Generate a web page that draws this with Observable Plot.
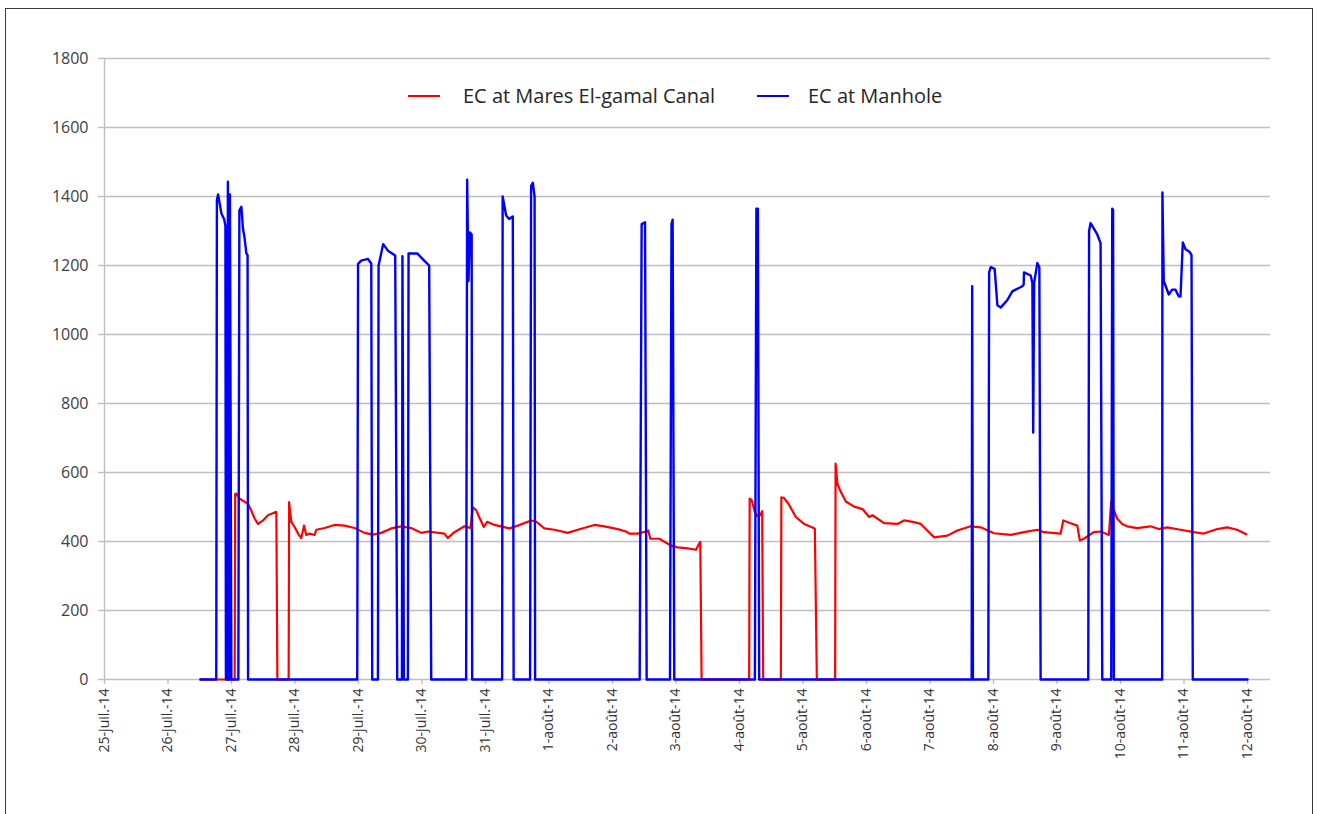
<!DOCTYPE html>
<html>
<head>
<meta charset="utf-8">
<script src="https://cdn.jsdelivr.net/npm/d3@7"></script>
<script src="https://cdn.jsdelivr.net/npm/@observablehq/plot@0.6"></script>
<style>
  html, body { margin: 0; padding: 0; background: #fff; }
  #frame { position: absolute; left: 5px; top: 8px; width: 1308px; height: 830px; border: 1.6px solid #3a3a3a; box-sizing: border-box; }
  #chart { position: absolute; left: 0; top: 0; }
  .legline { position: absolute; height: 2px; width: 32px; }
  .legtext { position: absolute; top: 82px; line-height: 28px; font-family: "Open Sans", sans-serif; font-size: 20px; color: #262626; white-space: nowrap; }
</style>
</head>
<body>
<div id="frame"></div>
<div id="chart"></div>
<div class="legline" style="left:408px; top:95px; background:#ff0000;"></div>
<div class="legtext" id="lt1" style="left:463px;"></div>
<div class="legline" style="left:757px; top:95px; background:#0000ff;"></div>
<div class="legtext" id="lt2" style="left:808px;"></div>
<script>
// Series names
const seriesNames = ["EC at Mares El-gamal Canal", "EC at Manhole"];

// Time axis: days after 25 July 2014 00:00
const xTickLabels = ["25-juil.-14","26-juil.-14","27-juil.-14","28-juil.-14","29-juil.-14","30-juil.-14","31-juil.-14",
  "1-août-14","2-août-14","3-août-14","4-août-14","5-août-14","6-août-14","7-août-14","8-août-14","9-août-14",
  "10-août-14","11-août-14","12-août-14"];
const yTicks = [0,200,400,600,800,1000,1200,1400,1600,1800];

// EC at Manhole (blue)
const manholeDay = [1.510,1.760,1.770,1.789,1.841,1.883,1.904,1.912,1.935,1.943,1.959,1.967,1.975,1.998,
  2.108,2.124,2.155,2.182,2.203,2.234,2.253,2.261,
  3.980,3.993,4.043,4.149,4.201,4.216,4.306,4.316,4.389,4.463,4.578,4.610,4.684,4.692,4.715,
  4.778,4.788,4.925,5.035,5.113,5.145,
  5.695,5.711,5.732,5.754,5.782,5.790,
  6.262,6.270,6.325,6.372,6.430,6.443,6.702,6.718,6.745,6.773,6.781,
  8.428,8.459,8.512,8.538,8.905,8.929,8.947,8.973,
  10.242,10.266,10.289,10.310,
  13.656,13.664,13.676,13.918,13.931,13.955,14.018,14.061,14.113,14.218,14.297,14.454,14.475,14.480,14.585,14.612,14.625,14.640,14.690,14.722,14.742,
  15.492,15.505,15.529,15.634,15.686,15.713,15.854,15.870,15.883,15.895,
  16.656,16.660,16.681,16.760,16.813,16.866,16.918,16.945,16.981,17.023,17.086,17.118,17.138,18.000];
const manholeEC = [0,0,1390,1406,1351,1335,1316,0,0,1443,0,0,1406,0,
  0,1360,1370,1305,1284,1235,1230,0,
  0,1205,1214,1219,1206,0,0,1200,1262,1243,1229,0,0,1227,0,
  0,1235,1235,1214,1200,0,
  0,1449,1155,1296,1290,0,
  0,1400,1345,1335,1342,0,0,1430,1440,1400,0,
  0,1320,1325,0,0,1320,1333,0,
  0,1365,1365,0,
  0,1140,0,0,1180,1195,1190,1085,1078,1100,1125,1140,1145,1180,1171,1150,716,1150,1207,1195,0,
  0,1300,1323,1290,1265,0,0,1365,1360,0,
  0,1412,1155,1116,1130,1130,1110,1110,1267,1247,1240,1230,0,0];

// EC at Mares El-gamal Canal (red)
const canalDay = [1.510,2.050,2.058,2.077,2.129,2.261,2.313,2.365,2.418,2.497,2.574,2.706,2.722,
  2.900,2.907,2.942,2.994,3.048,3.099,3.142,3.178,3.230,3.309,3.336,3.466,3.623,3.781,3.938,4.095,4.227,4.358,4.515,4.673,4.830,4.987,5.093,5.354,5.407,5.511,5.669,5.763,
  5.801,5.853,5.905,5.974,6.026,6.141,6.377,6.509,6.718,6.797,6.927,7.085,7.296,7.453,7.714,7.871,8.082,8.213,8.265,8.397,8.527,8.564,8.595,8.737,8.921,9.026,9.183,9.314,9.382,9.403,
  10.152,10.160,10.189,10.242,10.274,10.326,10.357,10.373,
  10.651,10.659,10.703,10.782,10.887,11.018,11.186,11.218,
  11.506,11.513,11.543,11.595,11.674,11.805,11.937,12.041,12.094,12.277,12.487,12.591,12.749,12.854,12.985,13.063,13.274,13.431,13.641,13.798,
  14.007,14.270,14.479,14.690,14.794,15.057,15.099,15.214,15.319,15.360,15.423,15.580,15.686,15.817,15.854,15.895,15.949,16.027,16.106,16.263,16.472,16.603,16.735,16.945,17.154,17.312,17.523,17.680,17.835,17.982];
const canalEC = [0,0,538,539,524,509,489,466,451,461,476,486,0,
  0,514,457,442,423,410,446,419,423,419,434,439,448,446,439,425,420,425,438,444,439,425,429,423,410,427,444,439,
  499,491,469,442,457,448,438,446,461,458,438,434,425,434,448,444,436,429,423,423,429,432,408,408,388,383,380,376,399,0,
  0,524,521,486,474,476,488,0,
  0,528,526,506,471,451,438,0,
  0,626,566,544,516,501,494,471,476,453,451,461,456,451,427,412,417,432,444,441,
  424,419,427,434,427,423,461,453,446,403,408,427,429,419,516,491,466,451,444,439,444,436,441,434,427,423,436,441,434,421];

const t0 = Date.UTC(2014, 6, 25);
const DAY = 864e5;
const toDate = d => new Date(t0 + d * DAY);

const canal = canalDay.map((d, i) => ({t: toDate(d), v: canalEC[i]}));
const manhole = manholeDay.map((d, i) => ({t: toDate(d), v: manholeEC[i]}));
const tickDates = xTickLabels.map((_, i) => toDate(i));
const labelOf = new Map(tickDates.map((d, i) => [+d, xTickLabels[i]]));

const grey = "#bfbfbf";
const chart = Plot.plot({
  width: 1317,
  height: 814,
  marginLeft: 104,
  marginRight: 47,
  marginTop: 58,
  marginBottom: 135,
  style: { fontFamily: "'Open Sans', sans-serif", background: "transparent", overflow: "visible" },
  x: { type: "utc", domain: [toDate(0), toDate(18.362)] },
  y: { domain: [0, 1800] },
  marks: [
    Plot.gridY(yTicks, { stroke: grey, strokeOpacity: 1, strokeWidth: 1.4 }),
    Plot.ruleX([toDate(0)], { stroke: grey, strokeWidth: 1.4 }),
    Plot.axisY(yTicks, { tickSize: 6, tickPadding: 10, stroke: grey, strokeWidth: 1.4, fill: "#404040", fontSize: 16, label: null, tickFormat: d => String(d) }),
    Plot.axisX(tickDates, { tickSize: 5, tickPadding: 4, tickRotate: -90, stroke: grey, strokeWidth: 1.4, fill: "#333333", fontSize: 14, label: null, tickFormat: d => labelOf.get(+d) }),
    Plot.lineY(canal, { x: "t", y: "v", stroke: "#ff0000", strokeWidth: 2.2 }),
    Plot.lineY(manhole, { x: "t", y: "v", stroke: "#0000ff", strokeWidth: 2.4 })
  ]
});
document.getElementById("chart").appendChild(chart);
document.getElementById("lt1").textContent = seriesNames[0];
document.getElementById("lt2").textContent = seriesNames[1];
</script>
</body>
</html>
